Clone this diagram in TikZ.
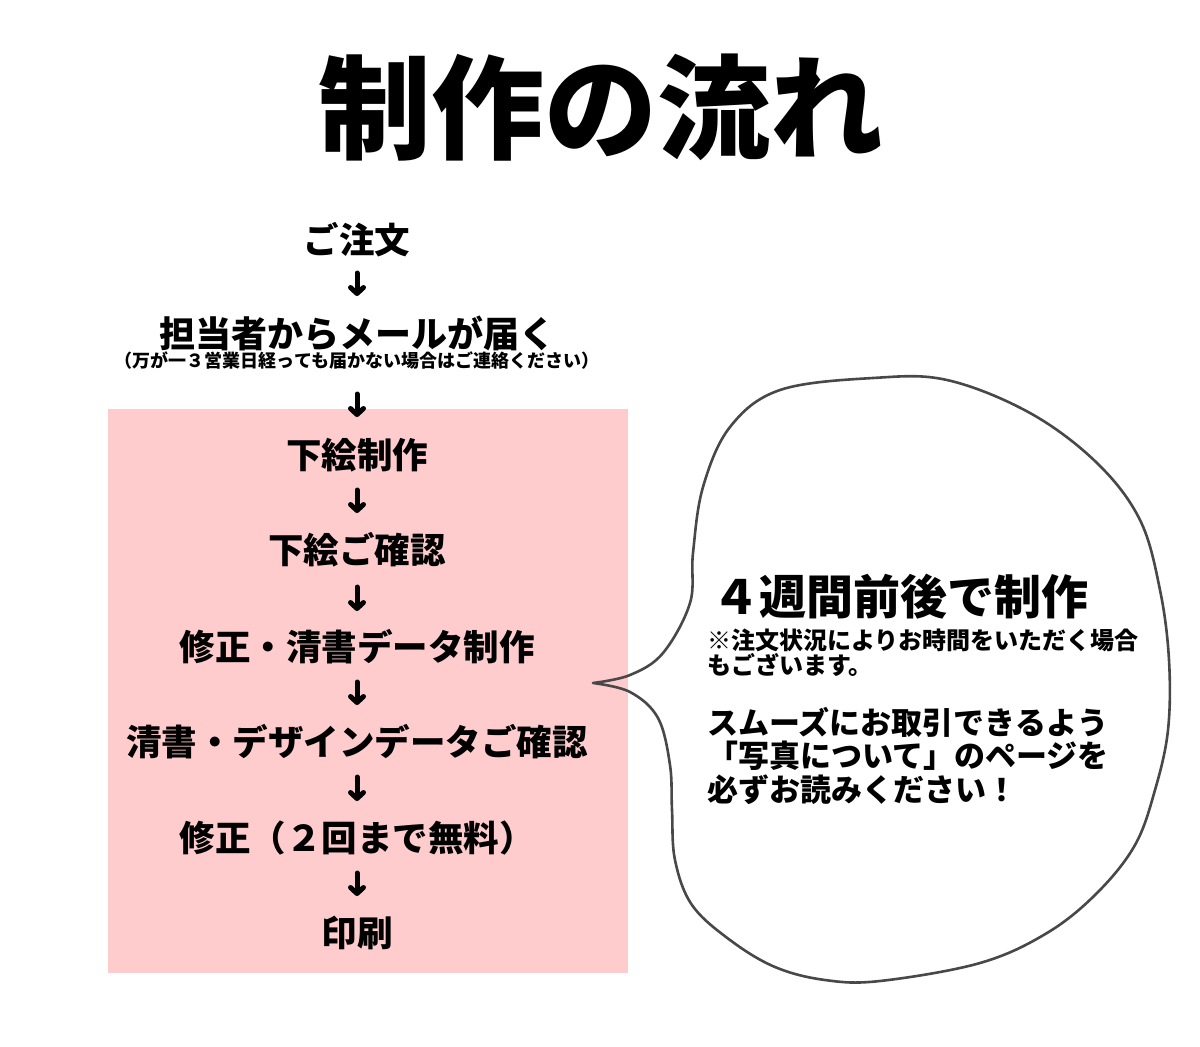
\documentclass[tikz,border=0pt]{standalone}
\usepackage{fontspec}
\newfontfamily\jpk{Noto Sans CJK JP Black}
\usetikzlibrary{arrows.meta}
\definecolor{pinkbg}{RGB}{255,204,206}
\definecolor{pencil}{RGB}{72,72,72}
\tikzset{
  stepbox/.style={font=\jpk\fontsize{35.5}{40}\selectfont, inner xsep=0pt, inner ysep=0pt, anchor=center},
  notebox/.style={font=\jpk\fontsize{18}{20}\selectfont, inner sep=0pt, anchor=center},
  flowarrow/.style={line width=5pt, line cap=round, -{Straight Barb[round,length=6pt,width=13pt]}, shorten <=35pt, shorten >=37pt},
  bubble/.style={draw=pencil, line width=2.6pt, line join=round, line cap=round},
}
\begin{document}
\begin{tikzpicture}[x=1pt,y=-1pt]
\useasboundingbox (0,0) rectangle (1200,1047);
\fill[white] (0,0) rectangle (1200,1047);

% title
\node[font=\jpk\fontsize{113}{120}\selectfont, inner sep=0pt] (title) at (601,108) {制作の流れ};

% pink panel
\fill[pinkbg] (108,409) rectangle (628,973);

% flow steps
\node[stepbox] (order) at (357,240) {ご注文};
\node[stepbox, font=\jpk\fontsize{36}{40}\selectfont] (mail) at (357,333) {担当者からメールが届く};
\node[notebox] (note) at (357,361) {（万が一３営業日経っても届かない場合はご連絡ください）};
\node[stepbox] (s1) at (357,455) {下絵制作};
\node[stepbox] (s2) at (357,550) {下絵ご確認};
\node[stepbox] (s3) at (357,647) {修正・清書データ制作};
\node[stepbox] (s4) at (357,742) {清書・デザインデータご確認};
\node[stepbox] (s5) at (357,838) {修正（２回まで無料）};
\node[stepbox] (s6) at (357,933) {印刷};

\draw[flowarrow, shorten <=33pt, shorten >=37pt] (order.center) -- (mail.center);
\draw[flowarrow, shorten <=33pt, shorten >=38pt] (note.center) -- (s1.center);
\draw[flowarrow] (s1.center) -- (s2.center);
\draw[flowarrow, shorten <=37pt, shorten >=36pt] (s2.center) -- (s3.center);
\draw[flowarrow] (s3.center) -- (s4.center);
\draw[flowarrow] (s4.center) -- (s5.center);
\draw[flowarrow] (s5.center) -- (s6.center);

% speech bubble
\draw[bubble] plot[smooth, tension=0.6] coordinates {
 (593,683) (630,675) (663,653) (690,603) (693,553) (703,487) (730,427) (780,390)
 (873,378) (947,380) (1030,413) (1097,463) (1140,520) (1160,590) (1169,660)
 (1168,730) (1155,790) (1135,845) (1097,893) (1047,933) (980,963) (880,981)
 (825,980) (775,967) (730,940) (692,905) (675,860) (672,810) (670,765)
 (658,718) (630,692) (593,683)};

% bubble texts
\node[font=\jpk\fontsize{47}{50}\selectfont, inner sep=0pt, anchor=west] (weeks) at (712,597) {４週間前後で制作};
\node[font=\jpk\fontsize{24}{25}\selectfont, inner sep=0pt, anchor=north west, align=left] (caution) at (707,629) {※注文状況によりお時間をいただく場合\\もございます。};
\node[font=\jpk\fontsize{31}{33.5}\selectfont, inner sep=0pt, anchor=north west, align=left] (please) at (707,707) {スムーズにお取引できるよう\\「写真について」のページを\\必ずお読みください！};
\end{tikzpicture}
\end{document}
